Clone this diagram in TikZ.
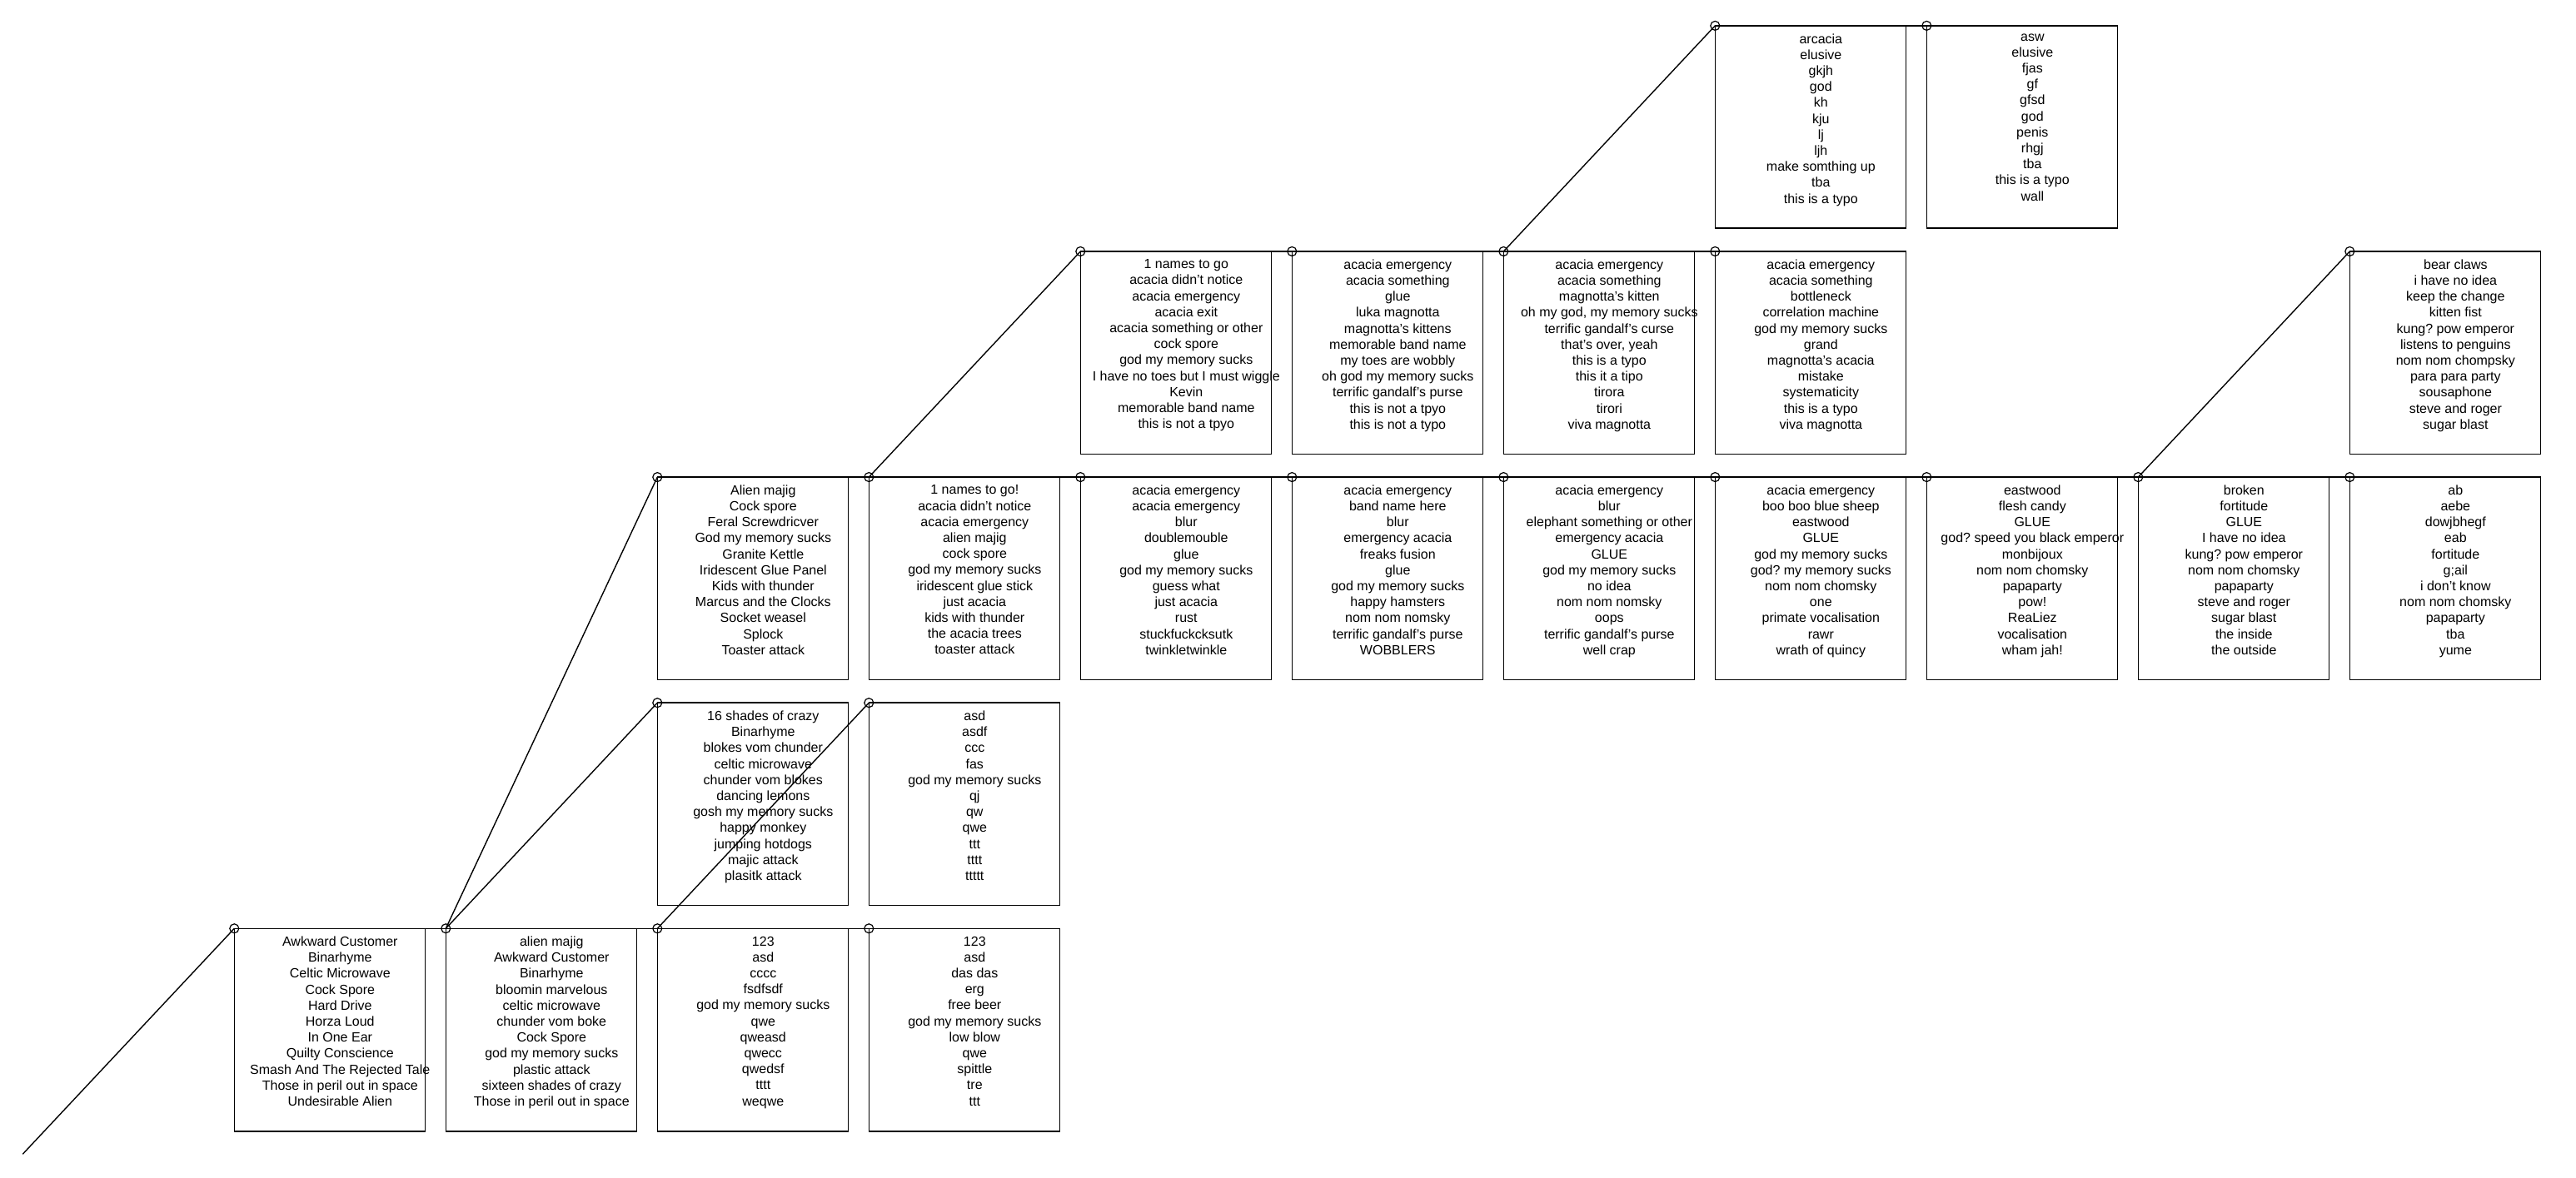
\documentclass[tikz,border=0pt]{standalone}
\usepackage{fontspec}
\setmainfont{Liberation Sans}
\usepackage{tikz}
\frenchspacing
\tikzstyle{bucket}=[rectangle,draw=black,line width=0.8pt,minimum width=114.5pt,
minimum height=121.7pt,inner sep=0pt,outer sep=0pt]
\tikzstyle{knot}=[circle,draw=black,line width=0.6pt,minimum size=5.5pt,inner sep=0pt]
\usetikzlibrary{positioning}

\begin{document}
\begin{tikzpicture}[node distance=13.85pt and 12.5pt, line width=0.7pt]
  \tikzstyle{names}=[anchor=north,align=center,inner sep=0pt,xshift=6.25pt,yshift=-4.5pt,
  			  font=\fontsize{8}{9.6}\selectfont,execute at begin node=\strut]
  \useasboundingbox (0,0) rectangle (1546.5pt,707pt);
  \coordinate (root) at (13.65pt,13.85pt);

  % bottom row
  \node[bucket, anchor=north west] (a0) at (140.65pt,149.35pt) {};
  \node[bucket, right=of a0] (b0) {};
  \node[bucket, right=of b0] (c0) {};
  \node[bucket, right=of c0] (d0) {};
  % second row
  \node[bucket, above=of c0] (c1) {};
  \node[bucket, above=of d0] (d1) {};
  % third row
  \node[bucket, above=of c1] (c2) {};
  \node[bucket, right=of c2] (d2) {};
  \node[bucket, right=of d2] (e2) {};
  \node[bucket, right=of e2] (f2) {};
  \node[bucket, right=of f2] (g2) {};
  \node[bucket, right=of g2] (h2) {};
  \node[bucket, right=of h2] (i2) {};
  \node[bucket, right=of i2] (j2) {};
  \node[bucket, right=of j2] (k2) {};
  % fourth row
  \node[bucket, above=of e2] (e3) {};
  \node[bucket, right=of e3] (f3) {};
  \node[bucket, right=of f3] (g3) {};
  \node[bucket, right=of g3] (h3) {};
  \node[bucket, above=of k2] (k3) {};
  % top row
  \node[bucket, above=of h3] (h4) {};
  \node[bucket, right=of h4] (i4) {};

  \node[names] (a0t) at (a0.north) {Awkward Customer\\Binarhyme\\Celtic Microwave\\Cock Spore\\Hard Drive\\Horza Loud\\In One Ear\\Quilty Conscience\\Smash And The Rejected Tale\\Those in peril out in space\\Undesirable Alien};
  \node[names] (b0t) at (b0.north) {alien majig\\Awkward Customer\\Binarhyme\\bloomin marvelous\\celtic microwave\\chunder vom boke\\Cock Spore\\god my memory sucks\\plastic attack\\sixteen shades of crazy\\Those in peril out in space};
  \node[names] (c0t) at (c0.north) {123\\asd\\cccc\\fsdfsdf\\god my memory sucks\\qwe\\qweasd\\qwecc\\qwedsf\\tttt\\weqwe};
  \node[names] (d0t) at (d0.north) {123\\asd\\das das\\erg\\free beer\\god my memory sucks\\low blow\\qwe\\spittle\\tre\\ttt};
  \node[names] (c1t) at (c1.north) {16 shades of crazy\\Binarhyme\\blokes vom chunder\\celtic microwave\\chunder vom blokes\\dancing lemons\\gosh my memory sucks\\happy monkey\\jumping hotdogs\\majic attack\\plasitk attack};
  \node[names] (d1t) at (d1.north) {asd\\asdf\\ccc\\fas\\god my memory sucks\\qj\\qw\\qwe\\ttt\\tttt\\ttttt};
  \node[names] (c2t) at (c2.north) {Alien majig\\Cock spore\\Feral Screwdricver\\God my memory sucks\\Granite Kettle\\Iridescent Glue Panel\\Kids with thunder\\Marcus and the Clocks\\Socket weasel\\Splock\\Toaster attack};
  \node[names] (d2t) at (d2.north) {1 names to go!\\acacia didn't notice\\acacia emergency\\alien majig\\cock spore\\god my memory sucks\\iridescent glue stick\\just acacia\\kids with thunder\\the acacia trees\\toaster attack};
  \node[names] (e2t) at (e2.north) {acacia emergency\\acacia emergency\\blur\\doublemouble\\glue\\god my memory sucks\\guess what\\just acacia\\rust\\stuckfuckcksutk\\twinkletwinkle};
  \node[names] (f2t) at (f2.north) {acacia emergency\\band name here\\blur\\emergency acacia\\freaks fusion\\glue\\god my memory sucks\\happy hamsters\\nom nom nomsky\\terrific gandalf's purse\\WOBBLERS};
  \node[names] (g2t) at (g2.north) {acacia emergency\\blur\\elephant something or other\\emergency acacia\\GLUE\\god my memory sucks\\no idea\\nom nom nomsky\\oops\\terrific gandalf's purse\\well crap};
  \node[names] (h2t) at (h2.north) {acacia emergency\\boo boo blue sheep\\eastwood\\GLUE\\god my memory sucks\\god? my memory sucks\\nom nom chomsky\\one\\primate vocalisation\\rawr\\wrath of quincy};
  \node[names] (i2t) at (i2.north) {eastwood\\flesh candy\\GLUE\\god? speed you black emperor\\monbijoux\\nom nom chomsky\\papaparty\\pow!\\ReaLiez\\vocalisation\\wham jah!};
  \node[names] (j2t) at (j2.north) {broken\\fortitude\\GLUE\\I have no idea\\kung? pow emperor\\nom nom chomsky\\papaparty\\steve and roger\\sugar blast\\the inside\\the outside};
  \node[names] (k2t) at (k2.north) {ab\\aebe\\dowjbhegf\\eab\\fortitude\\g;ail\\i don't know\\nom nom chomsky\\papaparty\\tba\\yume};
  \node[names] (e3t) at (e3.north) {1 names to go\\acacia didn't notice\\acacia emergency\\acacia exit\\acacia something or other\\cock spore\\god my memory sucks\\I have no toes but I must wiggle\\Kevin\\memorable band name\\this is not a tpyo};
  \node[names] (f3t) at (f3.north) {acacia emergency\\acacia something\\glue\\luka magnotta\\magnotta's kittens\\memorable band name\\my toes are wobbly\\oh god my memory sucks\\terrific gandalf's purse\\this is not a tpyo\\this is not a typo};
  \node[names] (g3t) at (g3.north) {acacia emergency\\acacia something\\magnotta's kitten\\oh my god, my memory sucks\\terrific gandalf's curse\\that's over, yeah\\this is a typo\\this it a tipo\\tirora\\tirori\\viva magnotta};
  \node[names] (h3t) at (h3.north) {acacia emergency\\acacia something\\bottleneck\\correlation machine\\god my memory sucks\\grand\\magnotta's acacia\\mistake\\systematicity\\this is a typo\\viva magnotta};
  \node[names] (k3t) at (k3.north) {bear claws\\i have no idea\\keep the change\\kitten fist\\kung? pow emperor\\listens to penguins\\nom nom chompsky\\para para party\\sousaphone\\steve and roger\\sugar blast};
  \node[names] (h4t) at (h4.north) {arcacia\\elusive\\gkjh\\god\\kh\\kju\\lj\\ljh\\make somthing up\\tba\\this is a typo};
  \node[names] (i4t) at (i4.north) {asw\\elusive\\fjas\\gf\\gfsd\\god\\penis\\rhgj\\tba\\this is a typo\\wall};

  % rings at the corners
  \foreach \x in {a0,b0,c0,d0,c1,d1,c2,d2,e2,f2,g2,h2,i2,j2,k2,e3,f3,g3,h3,k3,h4,i4}
    \node[knot] (\x o) at (\x.north west) {};

  % links
  \draw (root) -- (a0o.center);
  \foreach \x/\y in {a0/b0,b0/c0,c0/d0,b0/c1,b0/c2,c0/d1,c2/d2,d2/e2,e2/f2,f2/g2,g2/h2,
  			h2/i2,i2/j2,j2/k2,d2/e3,e3/f3,f3/g3,g3/h3,g3/h4,h4/i4,j2/k3}
    \draw (\x o.center) -- (\y o.center);
\end{tikzpicture}
\end{document}
